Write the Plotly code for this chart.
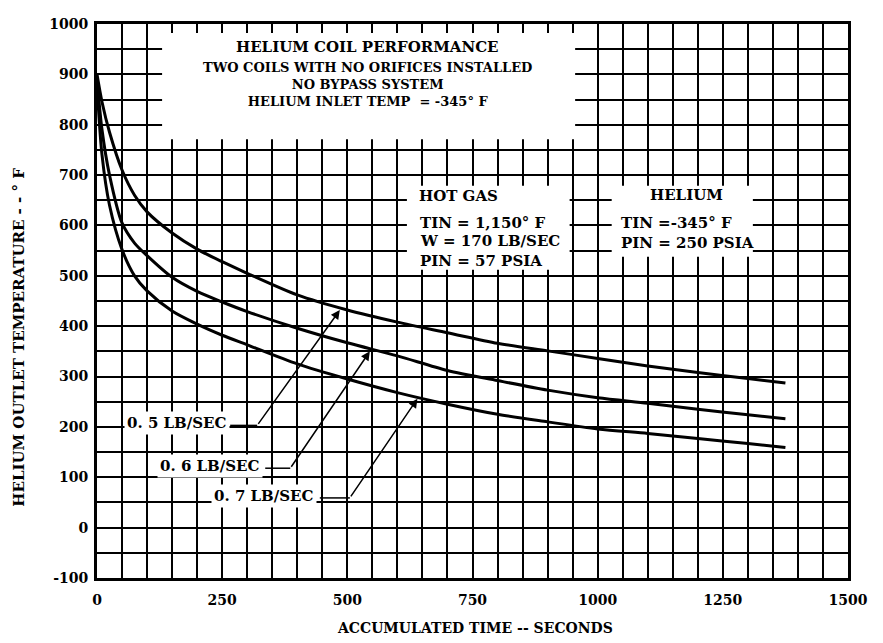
import plotly.graph_objects as go

# ---- data ----
time_s = [0, 10, 25, 50, 75, 100, 150, 200, 250, 300, 400, 500, 600, 700, 800, 900, 1000, 1100, 1200, 1300, 1375]
temp_05 = [900, 845, 785, 710, 660, 627, 585, 553, 528, 505, 462, 432, 408, 387, 366, 351, 336, 321, 308, 296, 287]
temp_06 = [890, 790, 700, 605, 565, 540, 497, 469, 448, 429, 396, 367, 341, 312, 292, 273, 258, 247, 235, 224, 216]
temp_07 = [880, 740, 640, 552, 500, 470, 430, 404, 382, 363, 325, 295, 268, 245, 225, 210, 196, 187, 177, 167, 159]
series_names = ["0. 5 LB/SEC", "0. 6 LB/SEC", "0. 7 LB/SEC"]

x_tick_vals = [0, 250, 500, 750, 1000, 1250, 1500]
x_tick_text = ["0", "250", "500", "750", "1000", "1250", "1500"]
y_tick_vals = [-100, 0, 100, 200, 300, 400, 500, 600, 700, 800, 900, 1000]
y_tick_text = ["-100", "0", "100", "200", "300", "400", "500", "600", "700", "800", "900", "1000"]

title_main = "HELIUM COIL PERFORMANCE"
title_sub = ["TWO COILS WITH NO ORIFICES INSTALLED", "NO BYPASS SYSTEM", "HELIUM INLET TEMP  = -345° F"]
hot_gas_lines = ["HOT GAS", "TIN = 1,150° F", "W = 170 LB/SEC", "PIN = 57 PSIA"]
helium_lines = ["HELIUM", "TIN =-345° F", "PIN = 250 PSIA"]

FONT = "DejaVu Serif"

fig = go.Figure()
for ys, nm in zip([temp_05, temp_06, temp_07], series_names):
    fig.add_trace(go.Scatter(x=time_s, y=ys, mode="lines", name=nm,
                             line=dict(color="black", width=3, shape="spline", smoothing=0.8),
                             showlegend=False, hoverinfo="skip"))

grid = dict(showgrid=True, gridcolor="black", gridwidth=2)
fig.update_layout(
    width=875, height=635,
    margin=dict(l=89, r=35, t=8, b=65),
    paper_bgcolor="white", plot_bgcolor="white",
    font=dict(family=FONT, color="black", size=13, weight="bold"),
    xaxis=dict(range=[0, 1500], tickvals=x_tick_vals, ticktext=x_tick_text,
               showline=True, linecolor="black", linewidth=3, mirror=True,
               zeroline=False, ticks="", ticklabelstandoff=7,
               tickfont=dict(family=FONT, size=14, weight="bold"),
               minor=dict(dtick=50, tick0=0, **grid), **grid),
    yaxis=dict(range=[-100, 1000], tickvals=y_tick_vals, ticktext=y_tick_text,
               showline=True, linecolor="black", linewidth=3, mirror=True,
               zeroline=False, ticks="", ticklabelstandoff=3,
               tickfont=dict(family=FONT, size=14, weight="bold"),
               minor=dict(dtick=50, tick0=0, **grid), **grid),
)

# white panels that hide the grid behind the text blocks
for x0, x1, y0, y1 in [(130, 955, 771, 982), (619, 944, 512, 679), (1028, 1310, 538, 679)]:
    fig.add_shape(type="rect", xref="x", yref="y", x0=x0, x1=x1, y0=y0, y1=y1,
                  fillcolor="white", line=dict(width=0), layer="above")

def txt(x, y, s, xanchor="center", size=15):
    fig.add_annotation(x=x, y=y, xref="x", yref="y", text=s, showarrow=False,
                       xanchor=xanchor, yanchor="middle",
                       font=dict(family=FONT, size=size, color="black", weight="bold"))

# title block
txt(541, 955, title_main, size=15)
fig.add_annotation(x=541, y=880, xref="x", yref="y", text="<br>".join(title_sub),
                   showarrow=False, xanchor="center", yanchor="middle", align="center",
                   font=dict(family=FONT, size=13, color="black", weight="bold"))
# hot gas block
txt(723, 658, hot_gas_lines[0])
for yv, s in zip([605, 570, 530], hot_gas_lines[1:]):
    txt(642, yv, s, xanchor="left")
# helium block
txt(1178, 660, helium_lines[0])
for yv, s in zip([605, 565], helium_lines[1:]):
    txt(1042, yv, s, xanchor="left")

# curve labels with leader lines and arrows
labels = [  # (text right x, text y, line start, line end, head x, head y)
    (265, 203, 272, 320, 485, 432),
    (331, 118, 342, 386, 545, 350),
    (440, 59, 451, 505, 640, 256),
]
for (tx, ty, l0, l1, hx, hy), nm in zip(labels, series_names):
    fig.add_shape(type="line", xref="x", yref="y", x0=l0 - 6, x1=l1, y0=ty, y1=ty,
                  line=dict(color="black", width=1.5), layer="above")
    fig.add_annotation(x=hx, y=hy, ax=l1, ay=ty, xref="x", yref="y", axref="x", ayref="y",
                       text="", showarrow=True, arrowhead=2, arrowsize=1.2,
                       arrowwidth=1.5, arrowcolor="black")
    fig.add_annotation(x=tx, y=ty + 4, xref="x", yref="y", text=nm, showarrow=False,
                       xanchor="right", yanchor="middle", bgcolor="white", borderpad=2,
                       font=dict(family=FONT, size=15, color="black", weight="bold"))

# axis titles
fig.add_annotation(x=0.503, y=-0.091, xref="paper", yref="paper",
                   text="ACCUMULATED TIME -- SECONDS", showarrow=False,
                   xanchor="center", yanchor="middle",
                   font=dict(family=FONT, size=14, weight="bold"))
fig.add_annotation(x=-0.105, y=0.434, xref="paper", yref="paper",
                   text="HELIUM OUTLET TEMPERATURE - - ° F", showarrow=False, textangle=-90,
                   xanchor="center", yanchor="middle",
                   font=dict(family=FONT, size=15, weight="bold"))

fig.write_html("out.html")
